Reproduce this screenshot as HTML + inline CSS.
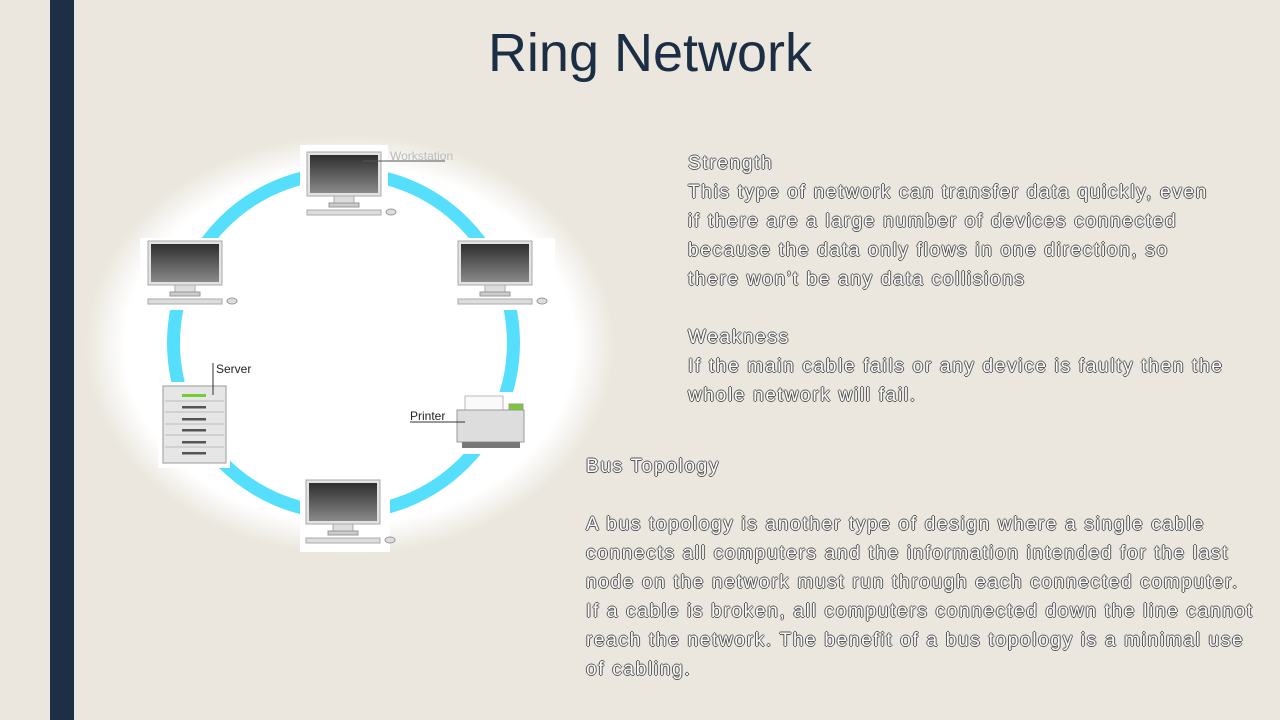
<!DOCTYPE html>
<html><head><meta charset="utf-8"><style>
body{margin:0;width:1280px;height:720px;background:#ebe7de;position:relative;overflow:hidden;font-family:"Liberation Sans",sans-serif}
.bar{position:absolute;left:50px;top:0;width:24px;height:720px;background:#1c2f44}
h1{position:absolute;top:22px;left:0;width:1300px;text-align:center;margin:0;font-weight:normal;font-size:54px;color:#1b2e44;font-family:"Liberation Sans",sans-serif}
.t{position:absolute;font-size:19px;line-height:29px;color:#fff;white-space:pre;letter-spacing:1.7px;
text-shadow:-1px 0 #555,1px 0 #555,0 -1px #555,0 1px #555}
</style></head><body>
<div class="bar"></div>
<h1>Ring Network</h1>
<svg width="1280" height="720" style="position:absolute;left:0;top:0">
<defs>
<radialGradient id="g" cx="0.5" cy="0.5" r="0.5">
<stop offset="0.85" stop-color="#fff"/><stop offset="1" stop-color="#fff" stop-opacity="0"/></radialGradient>
<linearGradient id="sc" x1="0" y1="0" x2="0" y2="1"><stop offset="0" stop-color="#2e2e2e"/><stop offset="1" stop-color="#8a8a8a"/></linearGradient>
<g id="mon">
<rect x="0" y="0" width="74" height="44" fill="#e2e2e2" stroke="#aaa"/>
<rect x="3" y="3" width="68" height="38" fill="url(#sc)"/>
<rect x="27" y="44" width="20" height="8" fill="#ddd" stroke="#aaa"/>
<rect x="22" y="51" width="30" height="4" fill="#ccc" stroke="#999"/>
<rect x="0" y="58" width="74" height="5" fill="#ddd" stroke="#aaa"/>
<ellipse cx="84" cy="60" rx="5" ry="3" fill="#ddd" stroke="#999"/>
</g>
</defs>
<ellipse cx="350" cy="345" rx="265" ry="210" fill="url(#g)"/>
<circle cx="343.5" cy="343" r="170" fill="none" stroke="#55dffc" stroke-width="13"/>
<g fill="#fff"><rect x="300" y="145" width="88" height="75"/><rect x="140" y="238" width="105" height="72"/><rect x="450" y="238" width="105" height="72"/><rect x="300" y="477" width="90" height="75"/><rect x="158" y="382" width="72" height="86"/><rect x="452" y="392" width="80" height="62"/></g>
<use href="#mon" x="307" y="152"/>
<use href="#mon" x="148" y="241"/>
<use href="#mon" x="458" y="241"/>
<use href="#mon" x="306" y="480"/>
<line x1="363" y1="161" x2="445" y2="161" stroke="#555"/>
<text x="390" y="160" font-size="12" fill="#bbb">Workstation</text>
<g>
<rect x="163" y="386" width="63" height="77" fill="#e6e6e6" stroke="#999"/>
<g fill="#555"><rect x="182" y="406" width="24" height="2.5"/><rect x="182" y="418" width="24" height="2.5"/><rect x="182" y="429" width="24" height="2.5"/><rect x="182" y="441" width="24" height="2.5"/><rect x="182" y="452" width="24" height="2.5"/></g>
<rect x="182" y="394" width="24" height="3" fill="#7c3"/>
<g stroke="#bbb"><line x1="165" y1="401" x2="224" y2="401"/><line x1="165" y1="412" x2="224" y2="412"/><line x1="165" y1="424" x2="224" y2="424"/><line x1="165" y1="435" x2="224" y2="435"/><line x1="165" y1="447" x2="224" y2="447"/></g>
</g>
<line x1="213" y1="363" x2="213" y2="395" stroke="#333"/>
<text x="216" y="373" font-size="12" fill="#222">Server</text>
<rect x="465" y="396" width="38" height="14" fill="#fafafa" stroke="#bbb"/>
<rect x="509" y="404" width="14" height="8" fill="#7c3" stroke="#999"/>
<rect x="457" y="410" width="67" height="32" fill="#ddd" stroke="#999"/>
<rect x="462" y="442" width="58" height="6" fill="#777"/>
<line x1="410" y1="422" x2="465" y2="422" stroke="#333"/>
<text x="410" y="420" font-size="12" fill="#222">Printer</text>
</svg>
<div class="t" style="left:688px;top:149px">Strength
This type of network can transfer data quickly, even
if there are a large number of devices connected
because the data only flows in one direction, so
there won’t be any data collisions

Weakness
If the main cable fails or any device is faulty then the
whole network will fail.</div>
<div class="t" style="left:586px;top:452px">Bus Topology

A bus topology is another type of design where a single cable
connects all computers and the information intended for the last
node on the network must run through each connected computer.
If a cable is broken, all computers connected down the line cannot
reach the network. The benefit of a bus topology is a minimal use
of cabling.</div>
</body></html>
